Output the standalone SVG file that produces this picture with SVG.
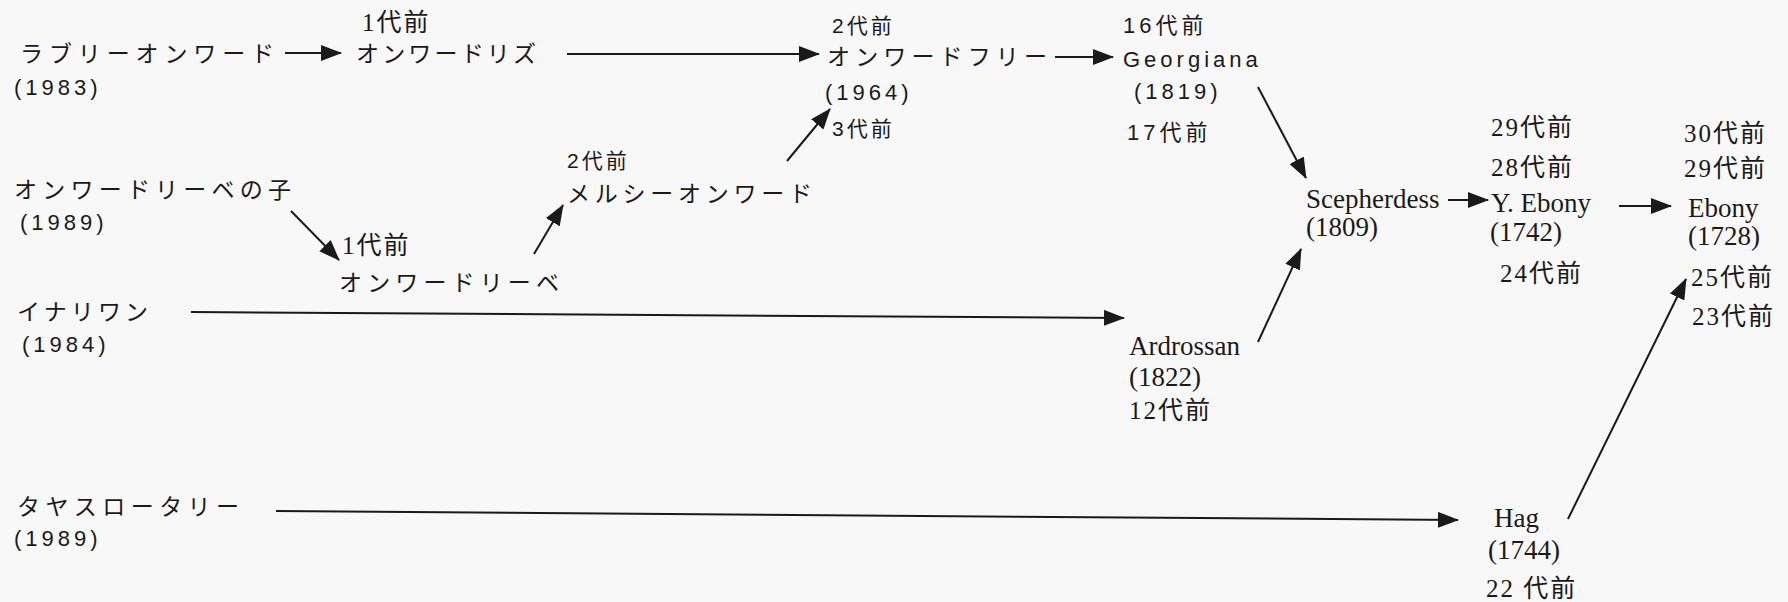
<svg xmlns="http://www.w3.org/2000/svg" width="1788" height="602" viewBox="0 0 1788 602">
<style>
.jp{font-family:"Noto Sans CJK JP",sans-serif;font-size:23px;fill:#1a1a1a}
.sn{font-family:"Liberation Sans","Noto Sans CJK JP",sans-serif;font-size:22px;letter-spacing:4px;fill:#1a1a1a}
.sf{font-family:"Liberation Serif","Noto Sans CJK JP",serif;font-size:27px;fill:#1a1a1a}
.lb{font-family:"Liberation Sans","Noto Sans CJK JP",sans-serif;font-size:21px;letter-spacing:3px;fill:#1a1a1a}
.ls{font-family:"Liberation Serif","Noto Sans CJK JP",serif;font-size:25px;letter-spacing:2px;fill:#1a1a1a}
.c line{stroke:#1a1a1a;stroke-width:2;marker-end:url(#ah)}
</style>
<defs>
<marker id="ah" markerUnits="userSpaceOnUse" markerWidth="22" markerHeight="16" refX="20" refY="8" orient="auto">
<path d="M0,0 L21,8 L0,16 z" fill="#1a1a1a"/>
</marker>
</defs>
<rect width="1788" height="602" fill="#f8f8f8"/>
<g class="c" id="connectors">
<line x1="285" y1="53" x2="341" y2="53"/>
<line x1="567" y1="54" x2="819" y2="54"/>
<line x1="787" y1="161" x2="830" y2="109"/>
<line x1="1055" y1="57" x2="1113" y2="57"/>
<line x1="1258" y1="87" x2="1306" y2="178"/>
<line x1="291" y1="211" x2="339" y2="260"/>
<line x1="534" y1="254" x2="563" y2="205"/>
<line x1="1448" y1="200" x2="1488" y2="200"/>
<line x1="1619" y1="206" x2="1671" y2="206"/>
<line x1="1258" y1="342" x2="1301" y2="249"/>
<line x1="191" y1="312" x2="1124" y2="318"/>
<line x1="276" y1="511" x2="1458" y2="520"/>
<line x1="1568" y1="519" x2="1686" y2="279"/>
</g>
<g id="lovely"><text class="jp" x="20" y="62" textLength="254">ラブリーオンワード</text><text class="sn" x="14" y="95">(1983)</text></g>
<g id="onwardliz"><text class="ls" x="362" y="31">1代前</text><text class="jp" x="356" y="62" textLength="180">オンワードリズ</text></g>
<g id="onwardfree"><text class="lb" x="832" y="33">2代前</text><text class="jp" x="827" y="65" textLength="220">オンワードフリー</text><text class="sn" x="825" y="100">(1964)</text><text class="lb" x="832" y="136">3代前</text></g>
<g id="georgiana"><text class="sn" x="1123" y="33">16代前</text><text class="sn" x="1123" y="67">Georgiana</text><text class="sn" x="1134" y="99">(1819)</text><text class="sn" x="1127" y="140">17代前</text></g>
<g id="onwardriibe-ko"><text class="jp" x="14" y="198" textLength="277">オンワードリーベの子</text><text class="sn" x="20" y="230">(1989)</text></g>
<g id="onwardriibe"><text class="ls" x="342" y="254">1代前</text><text class="jp" x="339" y="291" textLength="220">オンワードリーベ</text></g>
<g id="mercy"><text class="lb" x="567" y="168">2代前</text><text class="jp" x="567" y="202" textLength="245">メルシーオンワード</text></g>
<g id="scepherdess"><text class="sf" x="1306" y="208">Scepherdess</text><text class="sf" x="1306" y="236">(1809)</text></g>
<g id="yebony"><text class="ls" x="1491" y="136">29代前</text><text class="ls" x="1491" y="176">28代前</text><text class="sf" x="1491" y="212">Y. Ebony</text><text class="sf" x="1490" y="241">(1742)</text><text class="ls" x="1500" y="282">24代前</text></g>
<g id="ebony"><text class="ls" x="1684" y="142">30代前</text><text class="ls" x="1684" y="177">29代前</text><text class="sf" x="1688" y="217">Ebony</text><text class="sf" x="1688" y="245">(1728)</text><text class="ls" x="1691" y="286">25代前</text><text class="ls" x="1692" y="325">23代前</text></g>
<g id="inariwan"><text class="jp" x="17" y="320" textLength="131">イナリワン</text><text class="sn" x="22" y="352">(1984)</text></g>
<g id="ardrossan"><text class="sf" x="1129" y="355">Ardrossan</text><text class="sf" x="1129" y="386">(1822)</text><text class="ls" x="1129" y="419">12代前</text></g>
<g id="tayasu"><text class="jp" x="17" y="515" textLength="222">タヤスロータリー</text><text class="sn" x="14" y="546">(1989)</text></g>
<g id="hag"><text class="sf" x="1494" y="527">Hag</text><text class="sf" x="1488" y="559">(1744)</text><text class="ls" x="1486" y="597">22 代前</text></g>
</svg>
